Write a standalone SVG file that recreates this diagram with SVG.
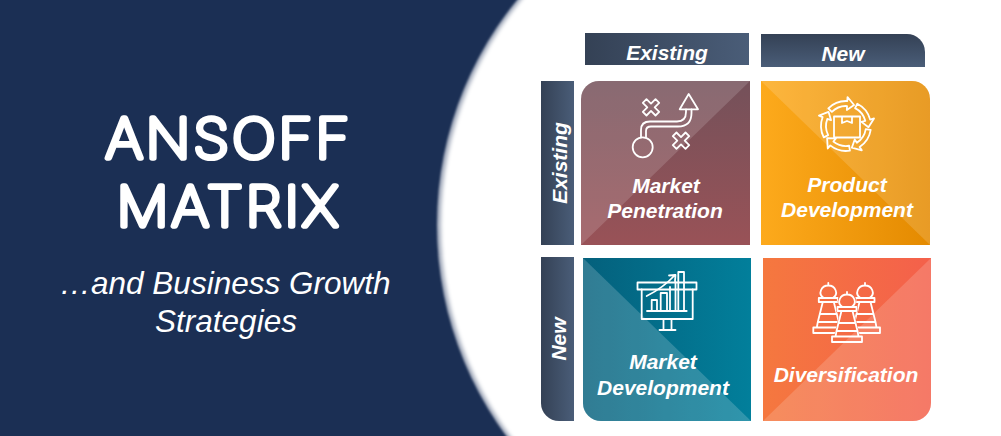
<svg xmlns="http://www.w3.org/2000/svg" xmlns:xlink="http://www.w3.org/1999/xlink" width="1001" height="436" viewBox="0 0 1001 436">
<style>
.cell{font:italic bold 21px "Liberation Sans",Arial,sans-serif;fill:#fff;text-anchor:middle}
.hdr{font:italic bold 21px "Liberation Sans",Arial,sans-serif;fill:#fff;text-anchor:middle}
.title{font:100 54px "Inter","Roboto",sans-serif;fill:#fff;stroke:#fff;stroke-width:5.6;stroke-linejoin:round;stroke-linecap:round;text-anchor:middle;letter-spacing:3px}
.sub{font:italic 31.5px "Liberation Sans",Arial,sans-serif;fill:#fff;text-anchor:middle}
.ic{fill:none;stroke:#fff;stroke-width:1.8;stroke-linejoin:round;stroke-linecap:round}
</style>
<defs>
<linearGradient id="hh"><stop offset="0" stop-color="#344155"/><stop offset="1" stop-color="#4a5d78"/></linearGradient>
<linearGradient id="hv" x2="0" y2="1"><stop offset="0" stop-color="#344155"/><stop offset="1" stop-color="#4a5d78"/></linearGradient>
<linearGradient id="mp" x2="0" y2="1"><stop offset="0" stop-color="#74515a"/><stop offset="1" stop-color="#995257"/></linearGradient>
<linearGradient id="pd"><stop offset="0" stop-color="#fdaa1c"/><stop offset="1" stop-color="#e48a00"/></linearGradient>
<linearGradient id="md"><stop offset="0" stop-color="#04607c"/><stop offset="1" stop-color="#027f9b"/></linearGradient>
<linearGradient id="dv"><stop offset="0" stop-color="#f5783f"/><stop offset="1" stop-color="#f4604b"/></linearGradient>
<filter id="sh1" x="-5%" y="-5%" width="110%" height="110%"><feGaussianBlur stdDeviation="1.2"/></filter>
<filter id="sh2" x="-5%" y="-5%" width="110%" height="110%"><feGaussianBlur stdDeviation="2"/></filter>
<path id="x" class="ic" transform="rotate(45)" d="M-2.6,-9 H2.6 V-2.6 H9 V2.6 H2.6 V9 H-2.6 V2.6 H-9 V-2.6 H-2.6Z"/>
<path id="ra" class="ic" d="M-14.7,-20.2 A25,25 0 0 1 5.2,-24.45 L6.03,-28.37 L11.25,-19.49 L3.33,-15.65 L4.16,-19.56 A20,20 0 0 0 -11.76,-16.18Z"/>
<path id="pawn" d="M0,0 V2.5 M-4.5,15 C-11,11 -7,2.5 0,2.5 C7,2.5 11,11 4.5,15 M-9.5,15 H9.5 V19 H-9.5Z M-5.5,19 L-10.5,39 M5.5,19 L10.5,39 M-8.5,31 H8.5 M-10.5,39 H10.5 L11.5,44.5 H-11.5Z M-11.5,44.5 H-15 V50 H15 V44.5 H11.5"/>
<path id="pawnBlock" d="M0,0 L4,3 C7,3 11,11 4.5,15 H9.5 V19 H5.5 L10.5,39 L11.5,44.5 H15 V50 H-15 V44.5 H-11.5 L-10.5,39 L-5.5,19 H-9.5 V15 H-4.5 C-11,11 -7,3 -4,3Z"/>
<mask id="front" maskUnits="userSpaceOnUse" x="800" y="270" width="100" height="80"><rect x="800" y="270" width="100" height="80" fill="#fff"/><use xlink:href="#pawnBlock" href="#pawnBlock" transform="translate(847,292)" fill="#000" stroke="#000" stroke-width="2.5"/></mask>
</defs>

<rect id="background" width="1001" height="436" fill="#1b2f54"/>
<g id="disc">
<circle cx="793" cy="225" r="356" fill="#9aa3b5" filter="url(#sh1)"/>
<circle cx="796.5" cy="225" r="356" fill="#fff" filter="url(#sh2)"/>
<rect x="530" width="471" height="436" fill="#fff"/>
</g>

<g id="title">
<text class="title" transform="translate(229,157.5) scale(1.07,1)">ANSOFF</text>
<text class="title" transform="translate(229,225.5) scale(1.07,1)">MATRIX</text>
<text class="sub" x="225" y="294">…and Business Growth</text>
<text class="sub" x="226" y="332">Strategies</text>
</g>

<g id="header-existing">
<rect x="585" y="33" width="164" height="32" fill="url(#hh)"/>
<text class="hdr" x="667" y="60">Existing</text>
</g>
<g id="header-new">
<path d="M761,34 H907 A18,18 0 0 1 925,52 V67 H761Z" fill="url(#hv)"/>
<text class="hdr" x="843" y="61">New</text>
</g>
<g id="side-existing">
<rect x="541" y="81" width="33" height="164" fill="url(#hh)"/>
<text class="hdr" transform="translate(567,163) rotate(-90)">Existing</text>
</g>
<g id="side-new">
<path d="M541,257 H574 V421 H559 A18,18 0 0 1 541,403Z" fill="url(#hh)"/>
<text class="hdr" transform="translate(566,339) rotate(-90)">New</text>
</g>

<g id="market-penetration">
<path d="M599,81 H750 V245 H581 V99 A18,18 0 0 1 599,81Z" fill="url(#mp)"/>
<path d="M599,81 H750 L581,245 V99 A18,18 0 0 1 599,81Z" fill="#fff" fill-opacity=".15"/>
<g class="ic">
<circle cx="642.7" cy="147.3" r="10"/>
<path d="M688.7,94 L679.7,109.3 H698Z"/>
<path d="M641,137 V130 Q641,121.5 650,121.5 H677 Q686,121.5 686,112 V109.5 M646,137 V131 Q646,126.5 651,126.5 H678 Q691.5,126.5 691.5,113 V109.5"/>
</g>
<use xlink:href="#x" href="#x" transform="translate(651,107.3)"/>
<use xlink:href="#x" href="#x" transform="translate(681,140.7)"/>
<text class="cell" x="666" y="193">Market</text>
<text class="cell" x="665" y="218">Penetration</text>
</g>

<g id="product-development">
<path d="M761,81 H912 A18,18 0 0 1 930,99 V245 H761Z" fill="url(#pd)"/>
<path d="M761,81 H912 A18,18 0 0 1 930,99 V245Z" fill="#fff" fill-opacity=".15"/>
<g class="ic" transform="translate(846,126)">
<path d="M-12,-9.5 H14 V11.5 H-12Z M-4,-9.5 V-3 L1,-5 L6,-3 V-9.5"/>
<use xlink:href="#ra" href="#ra" transform="rotate(-9)"/>
<use xlink:href="#ra" href="#ra" transform="rotate(63)"/>
<use xlink:href="#ra" href="#ra" transform="rotate(135)"/>
<use xlink:href="#ra" href="#ra" transform="rotate(207)"/>
<use xlink:href="#ra" href="#ra" transform="rotate(279)"/>
</g>
<text class="cell" x="847" y="192">Product</text>
<text class="cell" x="847" y="217">Development</text>
</g>

<g id="market-development">
<path d="M583,258 H751 V421 H601 A18,18 0 0 1 583,403Z" fill="url(#md)"/>
<path d="M583,258 L751,421 H601 A18,18 0 0 1 583,403Z" fill="#fff" fill-opacity=".18"/>
<g class="ic">
<rect x="637.5" y="282.5" width="59" height="7"/>
<path d="M641.7,289.5 V319 H692.7 V289.5 M663.5,319 V330 M671.5,319 V330 M659.5,330 H675.5 M647,311 H686.7"/>
<path d="M651.7,311 V300 H657 V311 M660.7,311 V293 H667 V311 M670,311 V287 M675.5,311 V282 M678.3,311 V272 H684 V311"/>
<path d="M646.7,296 Q663,288 675,275 M669,275.5 L675.5,275 L675,281"/>
</g>
<text class="cell" x="663" y="369">Market</text>
<text class="cell" x="663" y="395">Development</text>
</g>

<g id="diversification">
<path d="M763,258 H931 V403 A18,18 0 0 1 913,421 H763Z" fill="url(#dv)"/>
<path d="M931,258 V403 A18,18 0 0 1 913,421 H763Z" fill="#fff" fill-opacity=".16"/>
<g class="ic" mask="url(#front)">
<use xlink:href="#pawn" href="#pawn" transform="translate(828.3,283)"/>
<use xlink:href="#pawn" href="#pawn" transform="translate(865,283)"/>
</g>
<use xlink:href="#pawn" href="#pawn" class="ic" transform="translate(847,292)"/>
<text class="cell" x="846" y="382">Diversification</text>
</g>
</svg>
